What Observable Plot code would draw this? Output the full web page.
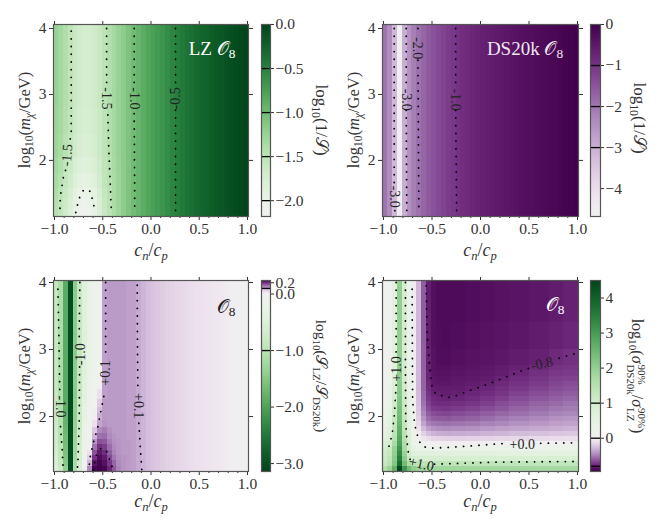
<!DOCTYPE html>
<html>
<head>
<meta charset="utf-8">
<script src="https://cdn.jsdelivr.net/npm/d3@7"></script>
<script src="https://cdn.jsdelivr.net/npm/@observablehq/plot@0.6"></script>
<style>
  body { margin: 0; background: white; }
  #fig { position: relative; width: 664px; height: 532px; overflow: hidden; font-family: "Liberation Serif", serif; color: #333; }
  .lab { position: absolute; white-space: nowrap; transform: translate(-50%, -50%); line-height: 1; }
  .lab sub { font-size: 70%; line-height: 0; vertical-align: -0.3em; }
  .stack { display: inline-block; vertical-align: middle; text-align: left; font-size: 68%; line-height: 1.05; font-style: normal; margin-left: 1px; }
  .stack span { display: block; }
</style>
</head>
<body>
<div id="fig"></div>
<script>
// column edges in c_n/c_p
const xEdges = [-1.01,-0.9595,-0.909,-0.8585,-0.808,-0.7575,-0.707,-0.6565,-0.606,-0.5555,-0.505,-0.4545,-0.404,-0.3535,-0.303,-0.2525,-0.202,-0.1515,-0.101,-0.0505,0,0.0505,0.101,0.1515,0.202,0.2525,0.303,0.3535,0.404,0.4545,0.505,0.5555,0.606,0.6565,0.707,0.7575,0.808,0.8585,0.909,0.9595,1.01];
const xEdgesCoarse = [-1.01,-0.9595,-0.909,-0.8585,-0.808,-0.7575,-0.707,-0.6565,-0.606,-0.5555,-0.505,-0.4545,-0.404,-0.3535,-0.303,-0.1515,0,0.1515,0.303,0.505,0.707,0.859,1.01];

// LZ: log10(1/S)
const lzTail = [-1.18,-1.08,-1.00,-0.94,-0.87,-0.81,-0.76,-0.71,-0.66,-0.60,-0.54,-0.49,-0.44,-0.40,-0.36,-0.32,-0.28,-0.25,-0.21,-0.18,-0.15,-0.12,-0.09,-0.07,-0.04,-0.02];
const lzY = [1.15,1.27,1.42,1.58,1.8,2.05,2.4,2.8,4.06];
const lzRows = [
  [-1.45,-1.55,-1.68,-1.83,-2.00,-2.10,-2.18,-2.08,-1.97,-1.80,-1.62,-1.50,-1.38,-1.28, ...lzTail],
  [-1.44,-1.53,-1.66,-1.80,-1.94,-2.06,-2.12,-2.06,-1.96,-1.78,-1.60,-1.49,-1.37,-1.27, ...lzTail],
  [-1.40,-1.50,-1.62,-1.76,-1.90,-2.00,-2.04,-2.00,-1.92,-1.74,-1.58,-1.48,-1.37,-1.27, ...lzTail],
  [-1.36,-1.46,-1.58,-1.70,-1.82,-1.90,-1.94,-1.90,-1.84,-1.70,-1.55,-1.46,-1.36,-1.27, ...lzTail],
  [-1.32,-1.42,-1.54,-1.65,-1.76,-1.83,-1.86,-1.84,-1.78,-1.66,-1.53,-1.45,-1.35,-1.26, ...lzTail],
  [-1.28,-1.36,-1.48,-1.58,-1.68,-1.76,-1.79,-1.78,-1.72,-1.63,-1.52,-1.43,-1.34,-1.25, ...lzTail],
  [-1.26,-1.34,-1.44,-1.54,-1.64,-1.72,-1.75,-1.74,-1.70,-1.61,-1.51,-1.42,-1.33,-1.25, ...lzTail],
  [-1.25,-1.32,-1.42,-1.52,-1.62,-1.70,-1.73,-1.72,-1.68,-1.60,-1.50,-1.42,-1.33,-1.25, ...lzTail]
];
const lzContours = [
  [[-0.827,3.96],[-0.827,2.41],[-0.84,2.3]],
  [[-0.886,1.85],[-0.91,1.73],[-0.94,1.45],[-0.945,1.21]],
  [[-0.46,4],[-0.46,3.14]],
  [[-0.447,2.69],[-0.437,2.16],[-0.41,1.21]],
  [[-0.174,4],[-0.174,3.14]],
  [[-0.174,2.71],[-0.168,1.21]],
  [[0.254,4],[0.254,3.1]],
  [[0.254,2.76],[0.254,1.21]],
  [[-0.78,1.21],[-0.758,1.35],[-0.737,1.45],[-0.696,1.56],[-0.627,1.53],[-0.585,1.27]]
];
const lzLabels = [
  {x:-0.87,y:2.08,t:"-1.5",r:-85},
  {x:-0.46,y:2.94,t:"-1.5",r:90},
  {x:-0.174,y:2.94,t:"-1.0",r:90},
  {x:0.25,y:2.94,t:"-0.5",r:-90}
];

// DS20k: log10(1/S)
const dsY = [1.15,4.06];
const dsRows = [
  [-2.0,-2.4,-3.2,-4.6,-3.0,-2.5,-2.15,-1.93,-1.75,-1.6,-1.48,-1.36,-1.25,-1.15,-1.07,-0.98,-0.91,-0.85,-0.79,-0.73,-0.68,-0.63,-0.59,-0.55,-0.51,-0.47,-0.43,-0.4,-0.36,-0.33,-0.3,-0.27,-0.24,-0.21,-0.18,-0.15,-0.12,-0.09,-0.06,-0.03]
];
const dsContours = [
  [[-0.89,4],[-0.89,1.62]],
  [[-0.883,1.24],[-0.883,1.19]],
  [[-0.766,4],[-0.766,3.09]],
  [[-0.766,2.76],[-0.76,1.19]],
  [[-0.645,4],[-0.645,3.92]],
  [[-0.645,3.52],[-0.635,1.19]],
  [[-0.256,4],[-0.256,3.09]],
  [[-0.256,2.76],[-0.246,1.19]]
];
const dsLabels = [
  {x:-0.89,y:1.45,t:"-3.0",r:90},
  {x:-0.766,y:2.92,t:"-3.0",r:90},
  {x:-0.645,y:3.7,t:"-2.0",r:90},
  {x:-0.256,y:2.92,t:"-1.0",r:90}
];

// ratio: log10(S_LZ/S_DS20k)
const ratioTail = [0.08,0.07,0.065,0.06,0.055,0.05,0.047,0.043,0.04,0.037,0.034,0.03,0.028,0.025,0.022,0.019,0.016,0.013,0.01,0.007,0.004,0.002];
const ratioY = [1.18,1.26,1.34,1.42,1.5,1.58,1.66,1.74,1.84,1.94,2.04,2.14,2.26,2.4,2.6,4.03];
const ratioRows = [
  [-0.55,-0.8,-1.4,-3.05,-1.1,-0.55,-0.02,0.12,0.235,0.24,0.235,0.2,0.16,0.125,0.11,0.105,0.1,0.09, ...ratioTail],
  [-0.6,-0.85,-1.5,-3.05,-1.15,-0.6,-0.08,0.08,0.215,0.235,0.22,0.185,0.15,0.12,0.11,0.105,0.1,0.09, ...ratioTail],
  [-0.6,-0.9,-1.55,-3.05,-1.2,-0.6,-0.15,0.05,0.19,0.225,0.21,0.17,0.135,0.115,0.11,0.105,0.1,0.09, ...ratioTail],
  [-0.65,-0.95,-1.6,-3.05,-1.25,-0.65,-0.16,0.03,0.165,0.21,0.195,0.155,0.125,0.11,0.105,0.105,0.1,0.09, ...ratioTail],
  [-0.65,-0.95,-1.65,-3.05,-1.25,-0.65,-0.18,0,0.14,0.19,0.18,0.145,0.12,0.11,0.105,0.105,0.1,0.09, ...ratioTail],
  [-0.7,-1.0,-1.7,-3.05,-1.3,-0.7,-0.2,-0.02,0.11,0.165,0.16,0.13,0.115,0.11,0.105,0.105,0.1,0.09, ...ratioTail],
  [-0.7,-1.0,-1.7,-3.05,-1.3,-0.7,-0.22,-0.04,0.08,0.14,0.145,0.12,0.11,0.105,0.105,0.1,0.1,0.09, ...ratioTail],
  [-0.75,-1.0,-1.75,-3.05,-1.35,-0.75,-0.25,-0.07,0.06,0.12,0.13,0.115,0.105,0.105,0.105,0.1,0.1,0.09, ...ratioTail],
  [-0.75,-1.05,-1.8,-3.05,-1.35,-0.75,-0.28,-0.1,0.03,0.095,0.11,0.105,0.105,0.105,0.105,0.1,0.1,0.09, ...ratioTail],
  [-0.8,-1.05,-1.8,-3.05,-1.4,-0.8,-0.3,-0.12,0.01,0.085,0.105,0.105,0.105,0.105,0.105,0.1,0.1,0.09, ...ratioTail],
  [-0.8,-1.1,-1.85,-3.05,-1.4,-0.8,-0.33,-0.14,-0.01,0.07,0.105,0.105,0.105,0.105,0.105,0.1,0.1,0.09, ...ratioTail],
  [-0.8,-1.1,-1.85,-3.05,-1.4,-0.8,-0.36,-0.17,-0.03,0.055,0.105,0.105,0.105,0.105,0.105,0.1,0.1,0.09, ...ratioTail],
  [-0.85,-1.1,-1.9,-3.05,-1.45,-0.85,-0.4,-0.2,-0.05,0.03,0.1,0.105,0.105,0.105,0.105,0.1,0.1,0.09, ...ratioTail],
  [-0.85,-1.15,-1.9,-3.05,-1.45,-0.85,-0.45,-0.25,-0.1,0,0.1,0.105,0.105,0.105,0.105,0.1,0.1,0.09, ...ratioTail],
  [-0.85,-1.15,-1.9,-3.05,-1.45,-0.85,-0.48,-0.28,-0.12,-0.03,0.1,0.105,0.105,0.105,0.105,0.1,0.1,0.09, ...ratioTail]
];
const ratioContours = [
  [[-0.965,3.9],[-0.955,3.24],[-0.945,2.34]],
  [[-0.938,1.85],[-0.92,1.5],[-0.91,1.22]],
  [[-0.737,4],[-0.744,3.24],[-0.744,3.1]],
  [[-0.74,2.74],[-0.744,1.9],[-0.758,1.3],[-0.765,1.2]],
  [[-0.47,4],[-0.47,3.5],[-0.47,2.95]],
  [[-0.489,2.3],[-0.558,1.8],[-0.59,1.65],[-0.627,1.42],[-0.644,1.22]],
  [[-0.6,1.2],[-0.58,1.34],[-0.56,1.45],[-0.516,1.53],[-0.454,1.47],[-0.427,1.34],[-0.396,1.23]],
  [[-0.143,3.96],[-0.14,3],[-0.136,2.4]],
  [[-0.126,1.9],[-0.109,1.5],[-0.095,1.2]]
];
const ratioLabels = [
  {x:-0.938,y:2.15,t:"-1.0",r:90},
  {x:-0.73,y:2.93,t:"-1.0",r:-90},
  {x:-0.47,y:2.65,t:"+0.1",r:-90},
  {x:-0.133,y:2.16,t:"+0.1",r:90}
];

// sigma: log10(sigma_DS20k / sigma_LZ)
const sigmaY = [1.18,1.255,1.33,1.405,1.48,1.555,1.63,1.705,1.78,1.855,1.93,2.005,2.08,2.155,2.23,2.305,2.38,2.455,2.53,2.605,2.68,2.755,3.0,3.4,4.03];
const sigmaRows = [
  [1.55,1.9,2.6,4.5,3.1,2.4,2.0,1.85,1.8,1.8,1.8,1.8,1.8,1.8, 1.8,1.79,1.78,1.77,1.76,1.75,1.74,1.73],
  [1.2,1.45,2.2,3.8,2.4,1.7,1.45,1.38,1.36,1.35,1.35,1.35,1.35,1.35, 1.35,1.34,1.33,1.32,1.31,1.3,1.3,1.3],
  [1.1,1.35,2.1,3.5,2.1,1.2,0.95,0.9,0.88,0.86,0.85,0.85,0.85,0.85, 0.85,0.84,0.84,0.83,0.83,0.82,0.82,0.82],
  [1.05,1.25,2.0,3.3,1.9,1.05,0.72,0.62,0.6,0.6,0.6,0.6,0.6,0.6, 0.6,0.59,0.59,0.58,0.58,0.57,0.57,0.57],
  [0.95,1.15,1.95,3.1,1.7,0.95,0.5,0.35,0.32,0.3,0.28,0.28,0.28,0.28, 0.27,0.27,0.27,0.27,0.27,0.26,0.26,0.26],
  [0.75,0.95,1.7,2.9,1.6,0.85,0.35,0.12,0.03,0,-0.01,-0.02,-0.03,-0.03, -0.02,-0.02,-0.01,-0.01,0,0,0,0.01],
  [0.6,0.8,1.5,2.8,1.5,0.8,0.3,0,-0.1,-0.14,-0.17,-0.18,-0.19,-0.2, -0.2,-0.19,-0.18,-0.17,-0.16,-0.15,-0.14,-0.13],
  [0.5,0.7,1.4,2.7,1.4,0.75,0.25,-0.04,-0.2,-0.28,-0.32,-0.34,-0.35,-0.36, -0.35,-0.34,-0.32,-0.31,-0.29,-0.27,-0.25,-0.24],
  [0.45,0.6,1.3,2.6,1.35,0.7,0.2,-0.1,-0.3,-0.4,-0.44,-0.46,-0.47,-0.47, -0.46,-0.45,-0.42,-0.4,-0.38,-0.36,-0.34,-0.32],
  [0.4,0.55,1.2,2.5,1.3,0.65,0.15,-0.15,-0.38,-0.5,-0.54,-0.55,-0.56,-0.56, -0.55,-0.53,-0.5,-0.48,-0.45,-0.43,-0.4,-0.38],
  [0.35,0.5,1.15,2.4,1.25,0.6,0.1,-0.2,-0.44,-0.57,-0.62,-0.63,-0.63,-0.64, -0.62,-0.6,-0.57,-0.54,-0.51,-0.48,-0.45,-0.43],
  [0.3,0.45,1.1,2.35,1.2,0.55,0.08,-0.23,-0.48,-0.62,-0.67,-0.68,-0.69,-0.69, -0.67,-0.65,-0.62,-0.59,-0.56,-0.53,-0.5,-0.48],
  [0.25,0.4,1.05,2.3,1.15,0.5,0.05,-0.25,-0.52,-0.67,-0.72,-0.73,-0.74,-0.74, -0.72,-0.7,-0.67,-0.64,-0.6,-0.57,-0.54,-0.52],
  [0.2,0.35,1,2.25,1.1,0.47,0.03,-0.27,-0.55,-0.7,-0.76,-0.77,-0.77,-0.77, -0.76,-0.74,-0.71,-0.67,-0.64,-0.6,-0.58,-0.55],
  [0.17,0.3,0.9,2.2,1.08,0.45,0.02,-0.28,-0.57,-0.73,-0.78,-0.79,-0.8,-0.8, -0.79,-0.77,-0.74,-0.71,-0.67,-0.64,-0.61,-0.59],
  [0.15,0.27,0.85,2.15,1.05,0.43,0.01,-0.29,-0.58,-0.75,-0.8,-0.81,-0.82,-0.82, -0.81,-0.79,-0.77,-0.74,-0.7,-0.67,-0.64,-0.62],
  [0.13,0.24,0.8,2.1,1.03,0.41,0,-0.3,-0.6,-0.77,-0.82,-0.83,-0.83,-0.83, -0.83,-0.81,-0.79,-0.76,-0.73,-0.7,-0.67,-0.65],
  [0.12,0.22,0.75,2.1,1.02,0.4,-0.01,-0.3,-0.6,-0.78,-0.84,-0.85,-0.85,-0.85, -0.84,-0.83,-0.81,-0.78,-0.75,-0.72,-0.69,-0.67],
  [0.1,0.2,0.7,2.05,1,0.4,-0.02,-0.3,-0.6,-0.8,-0.85,-0.86,-0.86,-0.86, -0.85,-0.84,-0.83,-0.8,-0.77,-0.74,-0.71,-0.7],
  [0.1,0.18,0.68,2.05,0.98,0.38,-0.03,-0.3,-0.6,-0.8,-0.86,-0.87,-0.87,-0.87, -0.86,-0.85,-0.84,-0.82,-0.79,-0.76,-0.73,-0.72],
  [0.08,0.15,0.65,2,0.96,0.37,-0.04,-0.3,-0.61,-0.81,-0.87,-0.88,-0.88,-0.88, -0.87,-0.86,-0.85,-0.83,-0.81,-0.78,-0.75,-0.74],
  [0.07,0.13,0.63,2,0.95,0.36,-0.05,-0.3,-0.61,-0.81,-0.87,-0.89,-0.89,-0.89, -0.88,-0.87,-0.86,-0.85,-0.83,-0.81,-0.78,-0.76],
  [0.06,0.12,0.62,2,0.95,0.36,-0.05,-0.3,-0.62,-0.82,-0.88,-0.89,-0.9,-0.9, -0.89,-0.88,-0.87,-0.86,-0.85,-0.83,-0.81,-0.79],
  [0.05,0.1,0.6,2,0.95,0.35,-0.05,-0.3,-0.62,-0.82,-0.88,-0.9,-0.9,-0.9, -0.9,-0.89,-0.88,-0.87,-0.86,-0.85,-0.83,-0.81]
];
const sigmaContours = [
  [[-0.87,4],[-0.87,2.92]],
  [[-0.87,2.47],[-0.887,2.04],[-0.91,1.74],[-0.945,1.55]],
  [[-0.774,4],[-0.774,2.74],[-0.77,1.89],[-0.75,1.5],[-0.725,1.35]],
  [[-0.475,1.29],[0.194,1.32],[1,1.33]],
  [[-0.705,3.9],[-0.7,2.24],[-0.68,1.89],[-0.636,1.64],[-0.595,1.55],[-0.49,1.53],[-0.32,1.54],[0.262,1.6]],
  [[0.62,1.6],[1,1.61]],
  [[-0.56,3.95],[-0.55,3.25],[-0.527,2.79],[-0.5,2.44],[-0.458,2.33],[-0.304,2.28],[-0.15,2.37],[0.09,2.49],[0.4,2.67],[0.52,2.73]],
  [[0.81,2.87],[1,2.95]]
];
const sigmaLabels = [
  {x:-0.87,y:2.71,t:"+1.0",r:-90},
  {x:-0.61,y:1.29,t:"+1.0",r:12},
  {x:0.43,y:1.59,t:"+0.0",r:0},
  {x:0.633,y:2.79,t:"-0.8",r:-12}
];

const fig = document.getElementById("fig");
const fontStyle = {fontFamily: "'Liberation Serif', serif", fontSize: "15px", color: "#333", background: "none", position: "absolute", overflow: "visible"};

function toCells(rows, yEdges, cols) {
  return rows.flatMap((row, j) => row.map((v, i) => ({
    x1: cols[i], x2: cols[i + 1], y1: yEdges[j], y2: yEdges[j + 1], v
  })));
}

function heatPanel(p) {
  const width = p.right - p.left + 40;
  const height = p.bottom - p.top + 40;
  const plot = Plot.plot({
    width: width,
    height: height,
    marginLeft: 20, marginRight: 20, marginTop: 20, marginBottom: 20,
    x: {domain: [-1.0104, 1.0104], axis: null},
    y: {domain: p.yDomain, axis: null},
    color: p.color,
    marks: [
      Plot.rect(toCells(p.rows, p.yEdges, p.cols), {x1: "x1", x2: "x2", y1: "y1", y2: "y2", fill: "v", shapeRendering: "crispEdges", clip: true}),
      ...p.contours.map(seg => Plot.line(seg, {x: d => d[0], y: d => d[1], stroke: "black", strokeWidth: 1.8, strokeDasharray: "0.1 7.6", strokeLinecap: "round"})),
      Plot.text(p.labels, {x: "x", y: "y", text: "t", rotate: "r", fontSize: 14, fill: "#222"}),
      Plot.axisX({ticks: [-1, -0.5, 0, 0.5, 1], tickFormat: d3.format(".1f"), tickSize: 4, tickPadding: 2, label: null, fontSize: 15.5}),
      Plot.axisX({ticks: [-0.9,-0.8,-0.7,-0.6,-0.4,-0.3,-0.2,-0.1,0.1,0.2,0.3,0.4,0.6,0.7,0.8,0.9], tickFormat: null, text: null, tickSize: 2, label: null}),
      Plot.axisX({anchor: "top", ticks: [-1, -0.5, 0, 0.5, 1], text: null, tickSize: 4, label: null}),
      Plot.axisY({ticks: [2, 3, 4], tickFormat: d3.format("d"), tickSize: 4, tickPadding: 3, label: null, fontSize: 15.5}),
      Plot.axisY({anchor: "right", ticks: [2, 3, 4], text: null, tickSize: 4, label: null}),
      Plot.frame({stroke: "#555", strokeWidth: 1.2})
    ],
    style: {...fontStyle, left: (p.left - 20) + "px", top: (p.top - 20) + "px"}
  });
  fig.append(plot);
}

function colorBar(p) {
  const step = (p.cbDomain[1] - p.cbDomain[0]) / 192;
  const steps = d3.range(p.cbDomain[0], p.cbDomain[1], step);
  const plot = Plot.plot({
    width: p.cbRight - p.cbLeft + 60,
    height: p.bottom - p.top + 40,
    marginLeft: 10, marginRight: 50, marginTop: 20, marginBottom: 20,
    x: {domain: [0, 1], axis: null},
    y: {domain: p.cbDomain, axis: null},
    color: p.color,
    marks: [
      Plot.rect(steps, {x1: d => 0, x2: d => 1, y1: d => d, y2: d => d + step, fill: d => d + step / 2, shapeRendering: "crispEdges"}),
      Plot.ruleY(p.cbLevels, {stroke: "black", strokeWidth: 1.3}),
      Plot.axisY({anchor: "right", ticks: p.cbTicks, tickFormat: d3.format(p.cbFormat), tickSize: 3, tickPadding: 2, label: null, fontSize: 15.5}),
      Plot.frame({stroke: "#555", strokeWidth: 1.2})
    ],
    style: {...fontStyle, left: (p.cbLeft - 10) + "px", top: (p.top - 20) + "px"}
  });
  fig.append(plot);
}

function addLabel(html, x, y, size, rotate, color) {
  const el = document.createElement("div");
  el.className = "lab";
  el.innerHTML = html;
  el.style.left = x + "px";
  el.style.top = y + "px";
  el.style.fontSize = size + "px";
  if (rotate) el.style.transform = "translate(-50%, -50%) rotate(" + rotate + "deg)";
  if (color) el.style.color = color;
  fig.append(el);
}

const greens = t => d3.interpolatePRGn(0.5 + t / 2);
const purples = t => d3.interpolatePRGn(0.5 - t / 2);

const panels = [
  {left: 53, right: 248, top: 24, bottom: 216, yDomain: [1.15, 4.06], rows: lzRows, yEdges: lzY, cols: xEdges, contours: lzContours, labels: lzLabels,
   color: {type: "linear", domain: [-2.18, 0], interpolate: greens},
   cbLeft: 261, cbRight: 270, cbDomain: [-2.18, 0], cbTicks: [-2, -1.5, -1, -0.5, 0], cbLevels: [-2, -1.5, -1, -0.5], cbFormat: ".1f"},
  {left: 382, right: 578, top: 24, bottom: 216, yDomain: [1.15, 4.06], rows: dsRows, yEdges: dsY, cols: xEdges, contours: dsContours, labels: dsLabels,
   color: {type: "linear", domain: [-4.68, 0], interpolate: purples},
   cbLeft: 590, cbRight: 600, cbDomain: [-4.68, 0], cbTicks: [-4, -3, -2, -1, 0], cbLevels: [-3, -2, -1], cbFormat: "d"},
  {left: 53, right: 248, top: 280, bottom: 471, yDomain: [1.18, 4.03], rows: ratioRows, yEdges: ratioY, cols: xEdges, contours: ratioContours, labels: ratioLabels,
   color: {type: "diverging", scheme: "PRGn", reverse: true, pivot: 0, symmetric: false, domain: [-3.14, 0.24]},
   cbLeft: 261, cbRight: 270, cbDomain: [-3.14, 0.24], cbTicks: [-3, -2, -1, 0, 0.2], cbLevels: [-1, 0.1], cbFormat: ".1f"},
  {left: 382, right: 578, top: 280, bottom: 471, yDomain: [1.18, 4.03], rows: sigmaRows, yEdges: sigmaY, cols: xEdgesCoarse, contours: sigmaContours, labels: sigmaLabels,
   color: {type: "diverging", scheme: "PRGn", pivot: 0, symmetric: false, domain: [-0.95, 4.5]},
   cbLeft: 590, cbRight: 600, cbDomain: [-0.95, 4.5], cbTicks: [0, 1, 2, 3, 4], cbLevels: [-0.8, 0, 1], cbFormat: "d"}
];

panels.forEach(p => { heatPanel(p); colorBar(p); });

const xLabel = "<i>c<sub>n</sub></i>/<i>c<sub>p</sub></i>";
const yLabel = "log<sub>10</sub>(<i>m<sub>χ</sub></i>/GeV)";
addLabel(xLabel, 151, 250, 18);
addLabel(xLabel, 480, 250, 18);
addLabel(xLabel, 151, 501, 18);
addLabel(xLabel, 480, 501, 18);
addLabel(yLabel, 25, 120, 16.5, -90);
addLabel(yLabel, 354, 120, 16.5, -90);
addLabel(yLabel, 25, 376, 16.5, -90);
addLabel(yLabel, 354, 376, 16.5, -90);

addLabel("log<sub>10</sub>(1/𝒮)", 321, 120, 17, 90);
addLabel("log<sub>10</sub>(1/𝒮)", 639, 118, 17, 90);
addLabel("log<sub>10</sub>(𝒮<sub>LZ</sub>/𝒮<sub>DS20k</sub>)", 321, 376, 15.5, 90);
addLabel("log<sub>10</sub>(<i>σ</i><span class='stack'><span>90%</span><span>DS20k</span></span>/<i>σ</i><span class='stack'><span>90%</span><span>LZ</span></span>)", 636, 376, 16, 90);

addLabel("LZ 𝒪<sub>8</sub>", 212, 48, 19, 0, "white");
addLabel("DS20k 𝒪<sub>8</sub>", 525, 48, 19, 0, "#efe6f0");
addLabel("𝒪<sub>8</sub>", 226, 306, 19, 0, "#222");
addLabel("𝒪<sub>8</sub>", 555, 304, 19, 0, "white");
</script>
</body>
</html>
